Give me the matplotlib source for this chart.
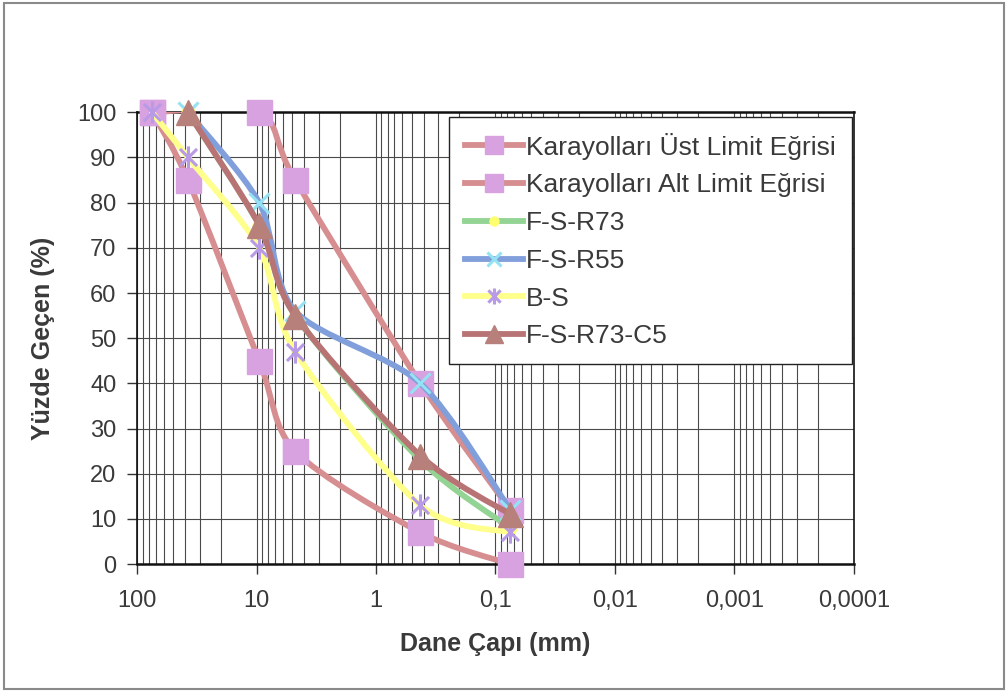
import numpy as np
import matplotlib
matplotlib.use("Agg")
import matplotlib.pyplot as plt
from matplotlib.path import Path
from matplotlib.patches import PathPatch, Rectangle
from matplotlib.lines import Line2D
from matplotlib.ticker import FixedLocator, NullFormatter, LogLocator

plt.rcParams['font.family'] = ['Liberation Sans', 'DejaVu Sans']

# Sieve sizes (mm) and percent passing for each gradation
sizes = [75, 37.5, 9.5, 4.75, 0.425, 0.075]
ust_limit = [100, np.nan, 100, 85, 40, 12]
alt_limit = [100, 85, 45, 25, 7, 0]
fs_r73 = [np.nan, 100, 75, 55, 23, 8]
fs_r55 = [np.nan, 100, 80, 56, 40, 12]
b_s = [100, 90, 70, 47, 13, 7]
fs_r73_c5 = [np.nan, 100, 75, 55, 24, 11]

series_names = ["Karayolları Üst Limit Eğrisi", "Karayolları Alt Limit Eğrisi",
                "F-S-R73", "F-S-R55", "B-S", "F-S-R73-C5"]
series_values = [ust_limit, alt_limit, fs_r73, fs_r55, b_s, fs_r73_c5]

xtick_values = [100, 10, 1, 0.1, 0.01, 0.001, 0.0001]
xtick_labels = ["100", "10", "1", "0,1", "0,01", "0,001", "0,0001"]
ytick_values = list(range(0, 101, 10))

# asterisk marker: an x with a vertical bar
ast = Path([(-1, -1), (1, 1), (-1, 1), (1, -1), (0, -1.3), (0, 1.3)],
           [Path.MOVETO, Path.LINETO, Path.MOVETO, Path.LINETO, Path.MOVETO, Path.LINETO])

styles = [
    dict(line="#D68E90", marker="s", mfc="#D8A2E0", mec="#D8A2E0", ms=18, mew=1),
    dict(line="#D68E90", marker="s", mfc="#D8A2E0", mec="#D8A2E0", ms=18, mew=1),
    dict(line="#93D393", marker="o", mfc="#FFFF70", mec="#FFFF70", ms=9, mew=1),
    dict(line="#819FDB", marker="x", mfc="none", mec="#94E2F2", ms=14, mew=2.2),
    dict(line="#FFFF8C", marker=ast, mfc="none", mec="#B89AE6", ms=16, mew=2.2),
    dict(line="#B87474", marker="^", mfc="#B8807A", mec="#B8807A", ms=18, mew=1),
]
LW = 4.2
TENSION = 1 / 7


def smooth_path(xs, ys):
    """Cubic Bezier through the points (Catmull-Rom style) in log-x space."""
    X = np.log10(np.asarray(xs, float))
    Y = np.asarray(ys, float)
    n = len(X)
    verts = [(xs[0], ys[0])]
    codes = [Path.MOVETO]
    for i in range(n - 1):
        p0 = (X[max(i - 1, 0)], Y[max(i - 1, 0)])
        p1 = (X[i], Y[i])
        p2 = (X[i + 1], Y[i + 1])
        p3 = (X[min(i + 2, n - 1)], Y[min(i + 2, n - 1)])
        c1 = (p1[0] + (p2[0] - p0[0]) * TENSION, p1[1] + (p2[1] - p0[1]) * TENSION)
        c2 = (p2[0] - (p3[0] - p1[0]) * TENSION, p2[1] - (p3[1] - p1[1]) * TENSION)
        for c in (c1, c2, p2):
            verts.append((10 ** c[0], c[1]))
            codes.append(Path.CURVE4)
    return Path(verts, codes)


fig = plt.figure(figsize=(10.08, 6.93), dpi=100)
fig.patch.set_facecolor("white")
fig.add_artist(Rectangle((0.004, 0.006), 0.992, 0.99, transform=fig.transFigure,
                         fill=False, ec="#8a8a8a", lw=1.5))

ax = fig.add_axes([0.136, 0.186, 0.711, 0.652])
ax.set_xscale("log")
ax.set_xlim(100, 0.0001)
ax.set_ylim(0, 100)

handles = []
for k, (name, vals, st) in enumerate(zip(series_names, series_values, styles)):
    xs = [s for s, v in zip(sizes, vals) if not np.isnan(v)]
    ys = [v for v in vals if not np.isnan(v)]
    patch = PathPatch(smooth_path(xs, ys), fill=False, ec=st["line"], lw=LW,
                      capstyle="round", joinstyle="round", zorder=3 + k)
    ax.add_patch(patch)
    ax.plot(xs, ys, ls="none", marker=st["marker"], ms=st["ms"], mfc=st["mfc"],
            mec=st["mec"], mew=st["mew"], clip_on=False, zorder=3.5 + k)
    handles.append(Line2D([], [], color=st["line"], lw=LW, marker=st["marker"],
                          ms=st["ms"] * 0.72, mfc=st["mfc"], mec=st["mec"],
                          mew=st["mew"]))

ax.xaxis.set_major_locator(FixedLocator(xtick_values))
ax.set_xticklabels(xtick_labels)
ax.xaxis.set_minor_locator(LogLocator(base=10, subs=np.arange(2, 10)))
ax.xaxis.set_minor_formatter(NullFormatter())
ax.set_yticks(ytick_values)

ax.grid(True, which="both", axis="x", color="#4a4a4a", lw=0.8)
ax.grid(True, which="major", axis="y", color="#4a4a4a", lw=0.8)
ax.set_axisbelow(True)

ax.tick_params(axis="both", which="major", direction="out", length=7, width=1,
               color="#333333", labelsize=17, labelcolor="#3a3a3a")
ax.tick_params(axis="x", which="major", pad=12)
ax.tick_params(axis="y", which="major", pad=8)
ax.tick_params(axis="x", which="minor", length=0)

for side, sp in ax.spines.items():
    sp.set_color("#111111")
    sp.set_linewidth(1.8 if side in ("top", "bottom") else 1.2)

ax.set_xlabel("Dane Çapı (mm)", fontsize=18, fontweight="bold", color="#3a3a3a",
              labelpad=14)
ax.set_ylabel("Yüzde Geçen (%)", fontsize=18, fontweight="bold", color="#3a3a3a",
              labelpad=16)

leg = ax.legend(handles, series_names, loc="upper right",
                bbox_to_anchor=(0.997, 0.99), fontsize=19, frameon=True,
                fancybox=False, edgecolor="#222222", framealpha=1,
                handlelength=2.2, handletextpad=0.12, labelspacing=0.52,
                borderpad=0.6, borderaxespad=0)
leg.get_frame().set_linewidth(1.0)
for t in leg.get_texts():
    t.set_color("#3a3a3a")
leg.set_zorder(20)

fig.savefig("out.png", dpi=100, facecolor="white")
